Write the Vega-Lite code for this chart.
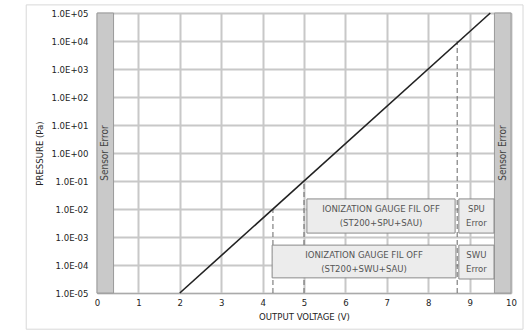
{
  "$schema": "https://vega.github.io/schema/vega-lite/v6.json",
  "width": 414,
  "height": 280,
  "autosize": {"type": "none"},
  "padding": {"left": 97, "top": 13, "right": 21, "bottom": 38},
  "background": "white",
  "config": {
    "view": {"stroke": "#b0b0b0"},
    "font": "DejaVu Sans Condensed, Noto Sans, sans-serif",
    "axis": {
      "labelFont": "DejaVu Sans Condensed, Noto Sans, sans-serif",
      "titleFont": "DejaVu Sans Condensed, Noto Sans, sans-serif",
      "labelColor": "#222",
      "titleColor": "#222",
      "labelFontSize": 9.5,
      "titleFontSize": 9.5,
      "titleFontWeight": "normal",
      "domainColor": "#aaa",
      "tickSize": 0,
      "grid": true,
      "gridColor": "#c8c8c8",
      "gridWidth": 2,
      "gridOpacity": 1
    }
  },
  "datasets": {
    "frame": [{"x": -1.71, "x2": 10.29, "y": 194984, "y2": 0.00000051}],
    "bands": [
      {"x": 0, "x2": 0.4, "y": 0.00001, "y2": 100000, "label": "Sensor Error", "xc": 0.2, "yc": 1},
      {"x": 9.6, "x2": 10, "y": 0.00001, "y2": 100000, "label": "Sensor Error", "xc": 9.8, "yc": 1}
    ],
    "dashes": [
      {"x": 4.25, "y": 0.00001, "y2": 0.01},
      {"x": 5, "y": 0.00001, "y2": 0.1},
      {"x": 8.7, "y": 0.00001, "y2": 10000}
    ],
    "curve": [
      {"v": 2, "p": 0.00001},
      {"v": 9.5, "p": 100000}
    ],
    "boxes": [
      {"x": 5.07, "x2": 8.65, "y": 0.0229, "y2": 0.00138, "xc": 6.86, "yc": 0.00562, "label": "IONIZATION GAUGE FIL OFF\n(ST200+SPU+SAU)"},
      {"x": 4.23, "x2": 8.67, "y": 0.000513, "y2": 0.0000347, "xc": 6.45, "yc": 0.000133, "label": "IONIZATION GAUGE FIL OFF\n(ST200+SWU+SAU)"},
      {"x": 8.74, "x2": 9.59, "y": 0.0229, "y2": 0.00138, "xc": 9.165, "yc": 0.00562, "label": "SPU\nError"},
      {"x": 8.74, "x2": 9.59, "y": 0.000513, "y2": 0.0000316, "xc": 9.165, "yc": 0.000127, "label": "SWU\nError"}
    ]
  },
  "layer": [
    {
      "data": {"name": "bands"},
      "mark": {"type": "rect", "fill": "#c9c9c9", "stroke": "#9a9a9a", "strokeWidth": 1},
      "encoding": {
        "x": {"field": "x", "type": "quantitative", "scale": {"domain": [0, 10], "nice": false, "zero": false},
              "axis": {"values": [0,1,2,3,4,5,6,7,8,9,10], "title": "OUTPUT VOLTAGE (V)", "labelPadding": 4, "titlePadding": 5, "labelFlush": false}},
        "x2": {"field": "x2"},
        "y": {"field": "y", "type": "quantitative",
              "scale": {"type": "log", "domain": [0.00001, 100000], "nice": false},
              "axis": {"values": [0.00001,0.0001,0.001,0.01,0.1,1,10,100,1000,10000,100000],
                       "labelExpr": "'1.0E' + (round(log(datum.value)/LN10) >= 0 ? '+' : '-') + (abs(round(log(datum.value)/LN10)) < 10 ? '0' : '') + abs(round(log(datum.value)/LN10))",
                       "title": "PRESSURE (Pa)", "labelPadding": 9, "titlePadding": 6, "labelFlush": false}},
        "y2": {"field": "y2"}
      }
    },
    {
      "data": {"name": "bands"},
      "mark": {"type": "text", "angle": 270, "fontSize": 10, "color": "#444", "align": "center", "baseline": "middle"},
      "encoding": {
        "x": {"field": "xc", "type": "quantitative"},
        "y": {"field": "yc", "type": "quantitative"},
        "text": {"field": "label"}
      }
    },
    {
      "data": {"name": "dashes"},
      "mark": {"type": "rule", "color": "#666", "strokeDash": [5, 3], "strokeWidth": 1},
      "encoding": {
        "x": {"field": "x", "type": "quantitative"},
        "y": {"field": "y", "type": "quantitative"},
        "y2": {"field": "y2"}
      }
    },
    {
      "data": {"name": "curve"},
      "mark": {"type": "line", "color": "#222", "strokeWidth": 1.6},
      "encoding": {
        "x": {"field": "v", "type": "quantitative"},
        "y": {"field": "p", "type": "quantitative"}
      }
    },
    {
      "data": {"name": "boxes"},
      "mark": {"type": "rect", "fill": "#ececec", "stroke": "#8a8a8a", "strokeWidth": 1},
      "encoding": {
        "x": {"field": "x", "type": "quantitative"},
        "x2": {"field": "x2"},
        "y": {"field": "y", "type": "quantitative"},
        "y2": {"field": "y2"}
      }
    },
    {
      "data": {"name": "boxes"},
      "mark": {"type": "text", "lineBreak": "\n", "lineHeight": 14, "fontSize": 9.5, "dy": -7, "color": "#555", "align": "center", "baseline": "middle"},
      "encoding": {
        "x": {"field": "xc", "type": "quantitative"},
        "y": {"field": "yc", "type": "quantitative"},
        "text": {"field": "label"}
      }
    },
    {
      "data": {"name": "frame"},
      "mark": {"type": "rect", "filled": false, "stroke": "#d8d8d8", "strokeWidth": 1, "clip": false},
      "encoding": {
        "x": {"field": "x", "type": "quantitative"},
        "x2": {"field": "x2"},
        "y": {"field": "y", "type": "quantitative"},
        "y2": {"field": "y2"}
      }
    }
  ]
}
